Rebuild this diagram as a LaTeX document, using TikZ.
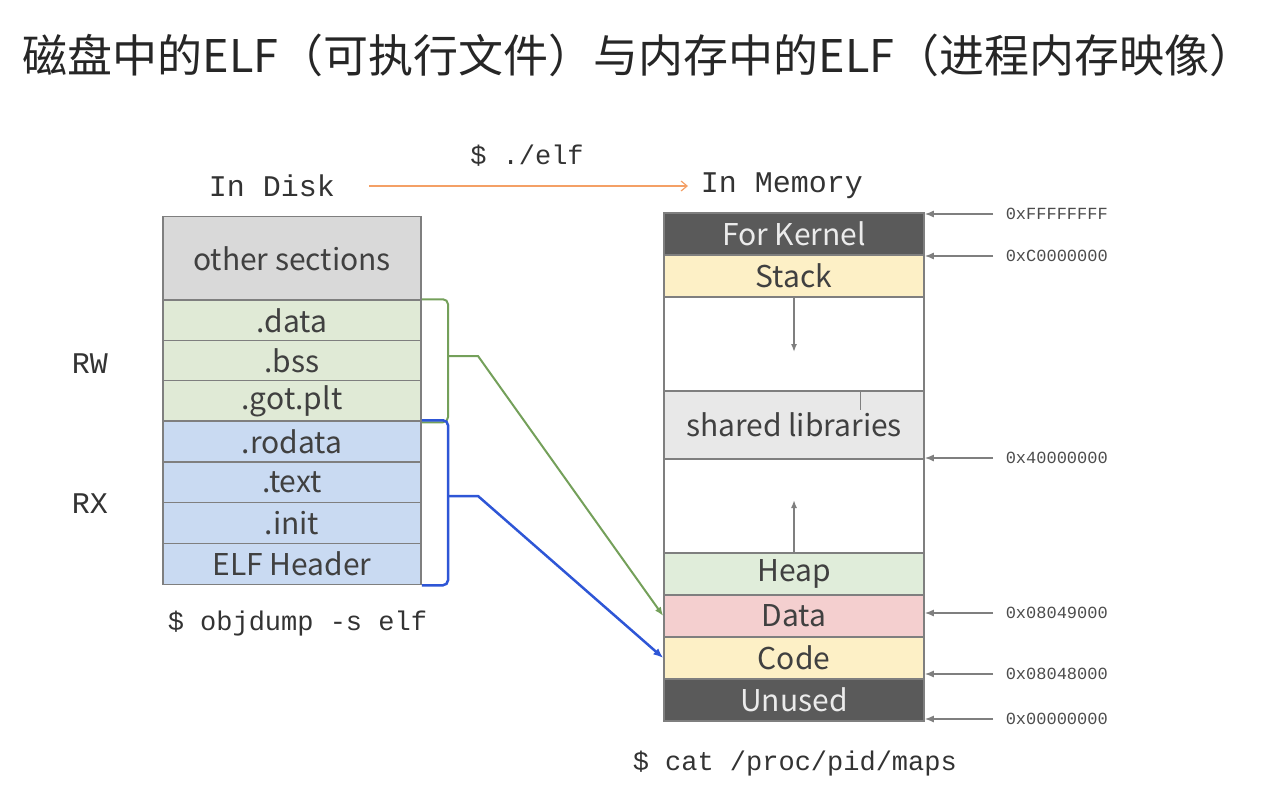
\documentclass[tikz,border=0pt]{standalone}
\usepackage{fontspec}
\setmainfont{Noto Sans CJK SC}
\setmonofont{Liberation Mono}
\usetikzlibrary{arrows.meta}
\definecolor{kernelgray}{HTML}{5A5A5A}
\definecolor{othergray}{HTML}{D9D9D9}
\definecolor{libgray}{HTML}{E8E8E8}
\definecolor{rwgreen}{HTML}{E0EAD6}
\definecolor{rxblue}{HTML}{C9DAF2}
\definecolor{stackyellow}{HTML}{FDF0C6}
\definecolor{heapgreen}{HTML}{E0EDDA}
\definecolor{datapink}{HTML}{F4CFCF}
\definecolor{boxgray}{HTML}{7F7F7F}
\definecolor{txtgray}{HTML}{404040}
\definecolor{rwline}{HTML}{74A05A}
\definecolor{rxline}{HTML}{2E56D6}
\definecolor{runorange}{HTML}{F4A066}
\begin{document}
\begin{tikzpicture}[x=1pt,y=-1pt,line width=1.5pt,
	sec/.style={draw=boxgray,minimum width=258pt,minimum height=41pt,inner sep=0pt,text=txtgray,font=\fontsize{30}{32}\selectfont},
	seg/.style={draw=boxgray,minimum width=260pt,minimum height=42pt,inner sep=0pt,text=txtgray,font=\fontsize{30}{32}\selectfont},
	mono/.style={inner sep=0pt,text=black!80,font=\ttfamily\fontsize{27}{30}\selectfont},
	addr/.style={anchor=west,inner sep=0pt,text=black!70,font=\ttfamily\fontsize{17}{18}\selectfont},
	ptr/.style={draw=boxgray,-{Latex[length=9pt,width=7pt]}}
	]
	\useasboundingbox (0,0) rectangle (1288,807);
	\node[anchor=west,inner sep=0pt,text=black!85,font=\fontsize{45}{50}\selectfont] (title) at (22,55) {磁盘中的ELF（可执行文件）与内存中的ELF（进程内存映像）};

	% disk side
	\node[mono,font=\ttfamily\fontsize{30}{32}\selectfont] (indisk) at (272,186) {In Disk};
	\node[sec,fill=othergray,minimum height=85pt] (other) at (292,259) {other sections};
	\node[sec,fill=rwgreen] (data) at (292,320.5) {.data};
	\node[sec,fill=rwgreen] (bss) at (292,361) {.bss};
	\node[sec,fill=rwgreen] (gotplt) at (292,401) {.got.plt};
	\node[sec,fill=rxblue] (rodata) at (292,441.5) {.rodata};
	\node[sec,fill=rxblue] (text) at (292,482.5) {.text};
	\node[sec,fill=rxblue] (init) at (292,523) {.init};
	\node[sec,fill=rxblue] (header) at (292,564) {ELF Header};
	\node[mono,font=\ttfamily\fontsize{30}{32}\selectfont] (rw) at (90,364) {RW};
	\node[mono,font=\ttfamily\fontsize{30}{32}\selectfont] (rx) at (90,504) {RX};
	\node[mono,anchor=west] (objdump) at (167,624) {\$ objdump -s elf};

	% memory side
	\node[mono,font=\ttfamily\fontsize{30}{32}\selectfont,anchor=west] (inmem) at (700,186) {In Memory};
	\node[seg,fill=kernelgray,text=white!92!black] (kernel) at (794,234) {For Kernel};
	\node[seg,fill=stackyellow] (stack) at (794,276) {Stack};
	\node[seg,minimum height=94pt] (free1) at (794,344) {};
	\node[seg,fill=libgray,minimum height=68pt] (shlib) at (794,425) {shared libraries};
	\node[seg,minimum height=94pt] (free2) at (794,506) {};
	\node[seg,fill=heapgreen] (heap) at (794,574) {Heap};
	\node[seg,fill=datapink] (mdata) at (794,616) {Data};
	\node[seg,fill=stackyellow] (code) at (794,658) {Code};
	\node[seg,fill=kernelgray,text=white!92!black] (unused) at (794,700) {Unused};
	\node[mono,anchor=west] (maps) at (632,764) {\$ cat /proc/pid/maps};
	\draw[boxgray,line width=1pt] (860,391) -- (860,410);

	% run
	\node[mono] (run) at (527,156) {\$ ./elf};
	\draw[runorange,line width=1.2pt,-{Straight Barb[length=6pt,width=10pt]},shorten >=12pt] (indisk.east) ++(33,0) -- (inmem.west);

	% stack / heap growth
	\coordinate (stackend) at (794,352);
	\coordinate (heapend) at (794,500);
	\draw[ptr,-{Latex[length=8pt,width=6pt]}] (stack.south) -- (stackend);
	\draw[ptr,-{Latex[length=8pt,width=6pt]}] (heap.north) -- (heapend);

	% addresses
	\node[addr] (aFFFF) at (1005,214) {0xFFFFFFFF};
	\node[addr] (aC000) at (1005,256) {0xC0000000};
	\node[addr] (a4000) at (1005,458) {0x40000000};
	\node[addr] (a0849) at (1005,613) {0x08049000};
	\node[addr] (a0848) at (1005,674) {0x08048000};
	\node[addr] (a0000) at (1005,719) {0x00000000};
	\draw[ptr,shorten <=12pt] (aFFFF.west) -- (aFFFF.west -| kernel.east);
	\draw[ptr,shorten <=12pt] (aC000.west) -- (aC000.west -| stack.east);
	\draw[ptr,shorten <=12pt] (a4000.west) -- (a4000.west -| shlib.east);
	\draw[ptr,shorten <=12pt] (a0849.west) -- (a0849.west -| mdata.east);
	\draw[ptr,shorten <=12pt] (a0848.west) -- (a0848.west -| code.east);
	\draw[ptr,shorten <=12pt] (a0000.west) -- (a0000.west -| unused.east);

	% segments to memory
	\coordinate (rwmid) at (448,356);
	\coordinate (rxmid) at (448,496);
	\draw[rwline,line width=2pt,rounded corners=5pt] (data.north east) -| (rwmid) |- (gotplt.south east);
	\draw[rwline,line width=2pt,-{Latex[length=9pt,width=7pt]}] (rwmid) -- (478,356) -- (mdata.west);
	\draw[rxline,line width=2.5pt,rounded corners=5pt] (rodata.north east) -| (rxmid) |- (header.south east);
	\draw[rxline,line width=2.5pt,-{Latex[length=10pt,width=8pt]}] (rxmid) -- (478,496) -- (code.west);
\end{tikzpicture}
\end{document}
